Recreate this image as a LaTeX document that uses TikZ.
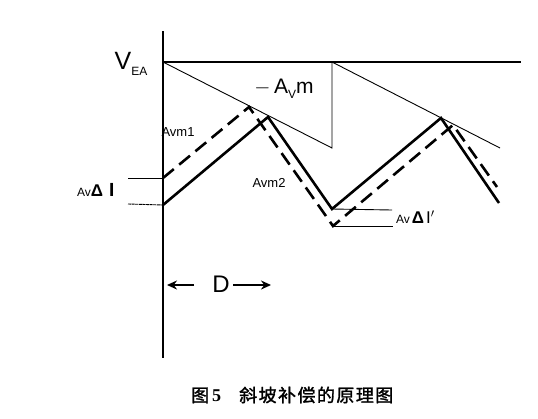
\documentclass[tikz,border=0pt]{standalone}
\usepackage{fontspec}
\setmainfont{Liberation Sans}
\newfontfamily\cjk[FakeBold=1.5,LetterSpace=8]{Noto Sans CJK SC}
\newfontfamily\serifnum{Liberation Serif}
\usetikzlibrary{arrows.meta}
\tikzset{
  thinline/.style={line width=0.9pt},
  axisline/.style={line width=1.8pt},
  wave/.style={line width=2.6pt, line join=miter},
  dwave/.style={line width=2.6pt, dash pattern=on 14pt off 7pt},
  lbl/.style={inner sep=0pt, anchor=center},
}
\begin{document}
\begin{tikzpicture}[x=1pt,y=-1pt]
\useasboundingbox (0,0) rectangle (538,418);
% coordinates
\coordinate (axT) at (163,31);
\coordinate (axB) at (163,358);
\coordinate (o) at (163,62);
\coordinate (topR) at (521,62);
\coordinate (r1e) at (332,148);
\coordinate (r1t) at (332,62);
\coordinate (r2e) at (500,148);
% solid wave
\coordinate (s0) at (163,205);
\coordinate (s1) at (268,117);
\coordinate (s2) at (332,209);
\coordinate (s3) at (441,118);
\coordinate (s4) at (499,203);
% dashed wave
\coordinate (d0) at (163,178);
\coordinate (d1) at (249,107);
\coordinate (d2) at (333,226);
\coordinate (d3) at (453,125);
\coordinate (d4) at (497,187);
% level lines
\coordinate (lL1) at (128,178);
\coordinate (lL2) at (128,204);
\coordinate (lR1) at (392,210);
\coordinate (lR2) at (393,226);
% D arrows
\coordinate (aL1) at (194,285);
\coordinate (aL2) at (167,285);
\coordinate (aR1) at (233,285);
\coordinate (aR2) at (271,285);

% axes
\draw[axisline] (axT) -- (axB);
\draw[line width=1.3pt] (o) -- (topR);
% ramps
\draw[thinline] (o) -- (r1e) -- (r1t);
\draw[thinline] (r1t) -- (r2e);
% waves
\draw[wave] (s0) -- (s1) -- (s2) -- (s3) -- (s4);
\draw[dwave] (d0) -- (d1) -- (d2) -- (d3) -- (d4);
% level lines
\draw[thinline] (lL1) -- (d0);
\draw[thinline, dash pattern=on 3pt off 0.6pt] (lL2) -- (s0);
\draw[thinline] (s2) -- (lR1);
\draw[thinline] (d2) -- (lR2);
% D arrows
\draw[line width=1.6pt, -{Stealth[length=10pt,width=9pt]}] (aL1) -- (aL2);
\draw[line width=1.6pt, -{Stealth[length=10pt,width=9pt]}] (aR1) -- (aR2);

% labels
\node[lbl] (vea) at (131,64) {\fontsize{25}{25}\selectfont V\raisebox{-6pt}{\fontsize{12}{12}\selectfont EA}};
\node[lbl] (avm) at (284,89) {\fontsize{21}{21}\selectfont $-$\,A\raisebox{-5pt}{\fontsize{12}{12}\selectfont V}m};
\node[lbl] (avm1) at (178,132) {\fontsize{13}{13}\selectfont Avm1};
\node[lbl] (avm2) at (269,183) {\fontsize{13}{13}\selectfont Avm2};
\node[lbl] (dl) at (221,284) {\fontsize{24}{24}\selectfont D};
\node[lbl, anchor=west] (dil) at (77,190) {\fontsize{12}{12}\selectfont Av{\fontsize{17}{17}\selectfont\bfseries Δ}\hspace{6pt}{\fontsize{19}{19}\selectfont\bfseries I}};
\node[lbl, anchor=west] (dir) at (396,217) {\fontsize{12}{12}\selectfont Av\,{\fontsize{17}{17}\selectfont\bfseries Δ}\,{\fontsize{17}{17}\selectfont I$'$}};
\node[lbl, anchor=west] (cap) at (191,395) {\cjk\fontsize{18}{18}\selectfont 图\hspace{3pt}{\serifnum\bfseries 5}\hspace{18pt}斜坡补偿的原理图};
\end{tikzpicture}
\end{document}
